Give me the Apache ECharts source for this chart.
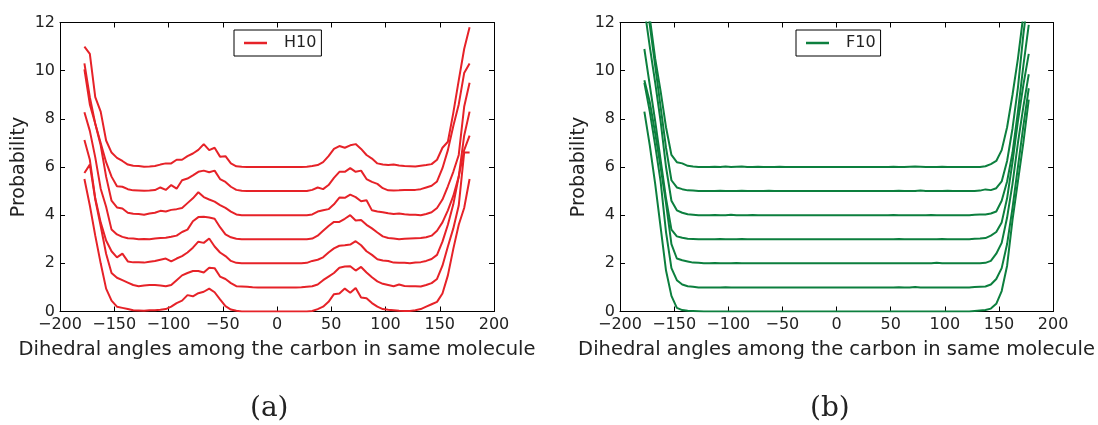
<!DOCTYPE html>
<html><head><meta charset="utf-8">
<script src="https://cdn.jsdelivr.net/npm/echarts@6/dist/echarts.min.js"></script>
<style>html,body{margin:0;padding:0;background:#fff}#c{width:1098px;height:425px}</style>
</head><body><div id="c"></div>
<script>
// Dihedral angle bins (degrees)
const angles = [
 -177.5,-172.5,-167.5,-162.5,-157.5,-152.5,-147.5,-142.5,-137.5,-132.5,-127.5,-122.5,
 -117.5,-112.5,-107.5,-102.5,-97.5,-92.5,-87.5,-82.5,-77.5,-72.5,-67.5,-62.5,
 -57.5,-52.5,-47.5,-42.5,-37.5,-32.5,-27.5,-22.5,-17.5,-12.5,-7.5,-2.5,
 2.5,7.5,12.5,17.5,22.5,27.5,32.5,37.5,42.5,47.5,52.5,57.5,
 62.5,67.5,72.5,77.5,82.5,87.5,92.5,97.5,102.5,107.5,112.5,117.5,
 122.5,127.5,132.5,137.5,142.5,147.5,152.5,157.5,162.5,167.5,172.5,177.5];

// H10 curves (plotted values, stacked offsets 0..6)
const h10_0 = [
 5.5,4.4,3.15,2.0,0.95,0.45,0.2,0.15,0.1,0.05,0.04,0.03,
 0.05,0.05,0.07,0.1,0.2,0.35,0.45,0.68,0.63,0.76,0.82,0.95,
 0.8,0.5,0.22,0.08,0.03,0.0,0.0,0.0,0.0,0.0,0.0,0.0,
 0.0,0.0,0.0,0.0,0.0,0.0,0.02,0.1,0.2,0.4,0.72,0.75,
 0.95,0.78,0.98,0.58,0.55,0.35,0.2,0.1,0.07,0.05,0.03,0.02,
 0.02,0.05,0.1,0.2,0.3,0.4,0.75,1.5,2.6,3.6,4.3,5.5];
const h10_1 = [
 5.75,6.1,4.65,3.55,2.4,1.6,1.4,1.3,1.2,1.1,1.05,1.08,
 1.1,1.1,1.08,1.05,1.1,1.3,1.5,1.6,1.68,1.68,1.62,1.82,
 1.8,1.45,1.35,1.18,1.05,1.04,1.03,1.01,1.0,1.0,1.0,1.0,
 1.0,1.0,1.0,1.0,1.01,1.03,1.05,1.12,1.3,1.45,1.6,1.82,
 1.87,1.88,1.7,1.85,1.62,1.42,1.25,1.15,1.1,1.05,1.12,1.06,
 1.05,1.05,1.04,1.1,1.18,1.35,1.9,2.7,3.45,4.4,6.6,6.6];
const h10_2 = [
 7.12,6.3,4.7,3.7,2.95,2.5,2.25,2.4,2.08,2.04,2.04,2.03,
 2.07,2.1,2.15,2.2,2.08,2.2,2.3,2.45,2.65,2.9,2.85,3.03,
 2.7,2.45,2.3,2.1,2.02,2.0,2.0,2.0,2.0,2.0,2.0,2.0,
 2.0,2.0,2.0,2.0,2.0,2.02,2.1,2.15,2.25,2.45,2.62,2.73,
 2.75,2.78,2.92,2.75,2.5,2.35,2.17,2.12,2.1,2.03,2.02,2.02,
 2.0,2.03,2.05,2.1,2.18,2.35,2.9,3.6,4.45,5.6,6.7,7.3];
const h10_3 = [
 8.27,7.5,6.4,5.1,4.35,3.4,3.2,3.1,3.04,3.03,3.0,3.01,
 3.0,3.03,3.05,3.06,3.1,3.15,3.3,3.4,3.75,3.92,3.93,3.9,
 3.85,3.5,3.2,3.08,3.02,3.0,3.0,3.0,3.0,3.0,3.0,3.0,
 3.0,3.0,3.0,3.0,3.0,3.0,3.03,3.15,3.35,3.55,3.72,3.72,
 3.85,4.0,3.78,3.8,3.6,3.45,3.28,3.12,3.05,3.03,3.0,3.02,
 3.03,3.04,3.05,3.08,3.15,3.35,3.7,4.2,4.8,5.6,7.3,8.3];
const h10_4 = [
 10.05,8.6,7.8,6.9,5.6,4.6,4.32,4.28,4.1,4.06,4.05,4.02,
 4.07,4.1,4.18,4.15,4.22,4.25,4.3,4.5,4.7,4.95,4.75,4.65,
 4.56,4.42,4.3,4.15,4.03,4.0,4.0,4.0,4.0,4.0,4.0,4.0,
 4.0,4.0,4.0,4.0,4.0,4.0,4.03,4.15,4.2,4.25,4.45,4.73,
 4.72,4.85,4.75,4.58,4.62,4.2,4.15,4.12,4.08,4.05,4.07,4.04,
 4.02,4.02,4.0,4.05,4.12,4.3,4.65,5.2,5.8,6.5,8.5,9.5];
const h10_5 = [
 10.3,8.9,7.8,7.0,6.2,5.6,5.2,5.18,5.08,5.03,5.02,5.01,
 5.02,5.04,5.15,5.05,5.25,5.1,5.45,5.52,5.65,5.8,5.85,5.78,
 5.85,5.5,5.38,5.18,5.05,5.01,5.0,5.0,5.0,5.0,5.0,5.0,
 5.0,5.0,5.0,5.0,5.0,5.0,5.05,5.15,5.08,5.25,5.55,5.8,
 5.8,5.95,5.8,5.85,5.5,5.38,5.3,5.12,5.03,5.02,5.03,5.05,
 5.04,5.05,5.08,5.15,5.22,5.4,5.95,6.7,7.7,8.6,9.9,10.3];
const h10_6 = [
 11.0,10.7,8.9,8.3,7.1,6.6,6.38,6.25,6.1,6.05,6.04,6.01,
 6.02,6.04,6.1,6.15,6.15,6.3,6.3,6.45,6.56,6.71,6.95,6.7,
 6.8,6.43,6.45,6.15,6.03,6.01,6.0,6.0,6.0,6.0,6.0,6.0,
 6.0,6.0,6.0,6.0,6.0,6.01,6.04,6.08,6.2,6.45,6.75,6.87,
 6.8,6.9,6.95,6.75,6.5,6.35,6.15,6.1,6.08,6.1,6.06,6.04,
 6.03,6.02,6.05,6.08,6.12,6.3,6.8,7.05,8.25,9.6,10.9,11.8];

// F10 curves (plotted values, stacked offsets 0..6)
const f10_0 = [
 8.3,6.9,5.3,3.5,1.7,0.65,0.15,0.06,0.03,0.02,0.01,0.0,
 0.0,0.0,0.0,0.0,0.0,0.0,0.0,0.0,0.0,0.0,0.0,0.0,
 0.0,0.0,0.0,0.0,0.0,0.0,0.0,0.0,0.0,0.0,0.0,0.0,
 0.0,0.0,0.0,0.0,0.0,0.0,0.0,0.0,0.0,0.0,0.0,0.0,
 0.0,0.0,0.0,0.0,0.0,0.0,0.0,0.0,0.0,0.0,0.0,0.0,
 0.0,0.02,0.04,0.06,0.12,0.32,0.85,1.9,3.8,5.4,7.0,8.8];
const f10_1 = [
 9.5,8.3,6.9,5.4,3.3,1.8,1.3,1.12,1.05,1.03,1.0,1.0,
 1.0,1.0,1.0,1.01,1.0,1.0,1.0,1.0,1.0,1.0,1.0,1.0,
 1.0,1.0,1.0,1.0,1.0,1.0,1.0,1.0,1.0,1.0,1.0,1.0,
 1.0,1.0,1.0,1.0,1.0,1.0,1.0,1.0,1.0,1.0,1.0,1.01,
 1.0,1.0,1.02,1.0,1.0,1.0,1.0,1.0,1.0,1.0,1.0,1.0,
 1.0,1.02,1.03,1.04,1.12,1.35,1.8,2.8,4.3,6.0,7.7,9.27];
const f10_2 = [
 9.6,8.7,7.4,6.0,4.5,2.8,2.2,2.13,2.08,2.03,2.02,2.0,
 2.0,2.01,2.0,2.0,2.0,2.01,2.0,2.0,2.0,2.0,2.0,2.0,
 2.0,2.0,2.0,2.0,2.0,2.0,2.0,2.0,2.0,2.0,2.0,2.0,
 2.0,2.0,2.0,2.0,2.0,2.0,2.0,2.0,2.0,2.0,2.0,2.0,
 2.0,2.0,2.0,2.0,2.0,2.0,2.02,2.0,2.0,2.0,2.0,2.0,
 2.0,2.0,2.0,2.02,2.1,2.4,2.85,3.9,5.3,7.0,8.5,9.85];
const f10_3 = [
 10.9,9.4,7.9,6.3,4.7,3.4,3.12,3.06,3.02,3.01,3.0,3.0,
 3.0,3.0,3.01,3.0,3.0,3.0,3.01,3.0,3.0,3.0,3.0,3.0,
 3.0,3.0,3.0,3.0,3.0,3.0,3.0,3.0,3.0,3.0,3.0,3.0,
 3.0,3.0,3.0,3.0,3.0,3.0,3.0,3.0,3.0,3.0,3.0,3.01,
 3.0,3.0,3.0,3.0,3.0,3.0,3.0,3.01,3.0,3.0,3.0,3.0,
 3.0,3.02,3.03,3.05,3.15,3.3,3.7,4.7,6.2,7.9,9.4,10.7];
const f10_4 = [
 12.6,11.0,9.5,7.9,6.0,4.6,4.2,4.1,4.04,4.02,4.0,4.0,
 4.0,4.01,4.0,4.0,4.02,4.0,4.0,4.0,4.01,4.0,4.0,4.0,
 4.0,4.0,4.0,4.0,4.0,4.0,4.0,4.0,4.0,4.0,4.0,4.0,
 4.0,4.0,4.0,4.0,4.0,4.0,4.0,4.0,4.0,4.0,4.01,4.0,
 4.0,4.0,4.0,4.0,4.0,4.01,4.0,4.0,4.0,4.0,4.0,4.0,
 4.0,4.02,4.03,4.03,4.07,4.15,4.6,5.4,6.6,8.3,10.2,11.9];
const f10_5 = [
 13.3,11.9,10.2,8.5,6.8,5.45,5.15,5.08,5.03,5.02,5.0,5.0,
 5.0,5.0,5.01,5.0,5.0,5.0,5.01,5.0,5.0,5.0,5.0,5.01,
 5.0,5.0,5.0,5.0,5.0,5.0,5.0,5.0,5.0,5.0,5.0,5.0,
 5.0,5.0,5.0,5.0,5.0,5.0,5.0,5.0,5.0,5.0,5.0,5.01,
 5.0,5.0,5.0,5.02,5.0,5.0,5.0,5.0,5.01,5.0,5.0,5.0,
 5.0,5.0,5.02,5.07,5.04,5.12,5.4,6.25,7.6,9.3,11.5,13.3];
const f10_6 = [
 13.6,12.2,10.5,9.15,7.65,6.5,6.2,6.15,6.05,6.02,6.0,6.0,
 6.0,6.01,6.0,6.02,6.0,6.01,6.02,6.0,6.0,6.01,6.0,6.0,
 6.0,6.01,6.0,6.0,6.0,6.0,6.0,6.0,6.0,6.0,6.0,6.0,
 6.0,6.0,6.0,6.0,6.0,6.0,6.0,6.0,6.0,6.0,6.01,6.0,
 6.0,6.01,6.02,6.01,6.0,6.0,6.0,6.01,6.0,6.0,6.0,6.0,
 6.0,6.0,6.0,6.03,6.12,6.25,6.7,7.65,9.0,10.5,12.3,13.8];

const h10Series = [h10_0,h10_1,h10_2,h10_3,h10_4,h10_5,h10_6];
const f10Series = [f10_0,f10_1,f10_2,f10_3,f10_4,f10_5,f10_6];
const xTicks = {min:-200, max:200, step:50};
const yTicks = {min:0, max:12, step:2};
const xTitle = 'Dihedral angles among the carbon in same molecule';
const yTitle = 'Probability';
const captions = ['(a)','(b)'];

const FONT = 'DejaVu Sans';
const TXT = '#222';
const RED = '#e62228';
const GREEN = '#0c7f3e';
const minus = v => String(v).replace('-', '\u2212');

function xAxes(gi){
  const base = {type:'value', gridIndex:gi, min:xTicks.min, max:xTicks.max, interval:xTicks.step,
    splitLine:{show:false}, axisLine:{show:true, onZero:false, lineStyle:{color:'#000', width:1}},
    axisTick:{show:true, inside:true, length:5, lineStyle:{color:'#000'}}};
  return [
    Object.assign({}, base, {position:'bottom',
      axisLabel:{show:true, fontFamily:FONT, fontSize:16, color:TXT, margin:5, formatter:minus},
      name:xTitle, nameLocation:'middle', nameGap:28,
      nameTextStyle:{fontFamily:FONT, fontSize:19.5, color:TXT}}),
    Object.assign({}, base, {position:'top', axisLabel:{show:false}})
  ];
}
function yAxes(gi){
  const base = {type:'value', gridIndex:gi, min:yTicks.min, max:yTicks.max, interval:yTicks.step,
    splitLine:{show:false}, axisLine:{show:true, onZero:false, lineStyle:{color:'#000', width:1}},
    axisTick:{show:true, inside:true, length:5, lineStyle:{color:'#000'}}};
  return [
    Object.assign({}, base, {position:'left',
      axisLabel:{show:true, fontFamily:FONT, fontSize:16, color:TXT, margin:5},
      name:yTitle, nameLocation:'middle', nameGap:31,
      nameTextStyle:{fontFamily:FONT, fontSize:19, color:TXT}}),
    Object.assign({}, base, {position:'right', axisLabel:{show:false}})
  ];
}

const series = [];
h10Series.forEach(arr => series.push({
  type:'line', name:'H10', xAxisIndex:0, yAxisIndex:0, showSymbol:false, symbol:'none',
  clip:true, color:RED, lineStyle:{color:RED, width:2},
  data: angles.map((a,i)=>[a, arr[i]])
}));
f10Series.forEach(arr => series.push({
  type:'line', name:'F10', xAxisIndex:2, yAxisIndex:2, showSymbol:false, symbol:'none',
  clip:true, color:GREEN, lineStyle:{color:GREEN, width:2},
  data: angles.map((a,i)=>[a, arr[i]])
}));

function legend(name, left){
  return {data:[name], left:left, top:30, orient:'horizontal', selectedMode:false,
    backgroundColor:'#fff', borderColor:'#000', borderWidth:1, borderRadius:0,
    padding:[5,5,5,10], icon:'rect', itemWidth:23, itemHeight:2.5,
    textStyle:{fontFamily:FONT, fontSize:16, color:TXT, padding:[0,0,0,12]}};
}

const chart = echarts.init(document.getElementById('c'), null, {renderer:'canvas'});
chart.setOption({
  animation:false,
  backgroundColor:'#fff',
  grid:[
    {left:60, top:22.5, width:434, height:289},
    {left:620, top:22.5, width:434, height:289}
  ],
  xAxis:[...xAxes(0), ...xAxes(1)],
  yAxis:[...yAxes(0), ...yAxes(1)],
  legend:[legend('H10', 234), legend('F10', 796)],
  series:series,
  graphic:[
    {type:'text', left:250, top:395, style:{text:captions[0], fontFamily:'DejaVu Serif', fontSize:28, fill:TXT}},
    {type:'text', left:810, top:395, style:{text:captions[1], fontFamily:'DejaVu Serif', fontSize:28, fill:TXT}}
  ]
});
</script></body></html>
